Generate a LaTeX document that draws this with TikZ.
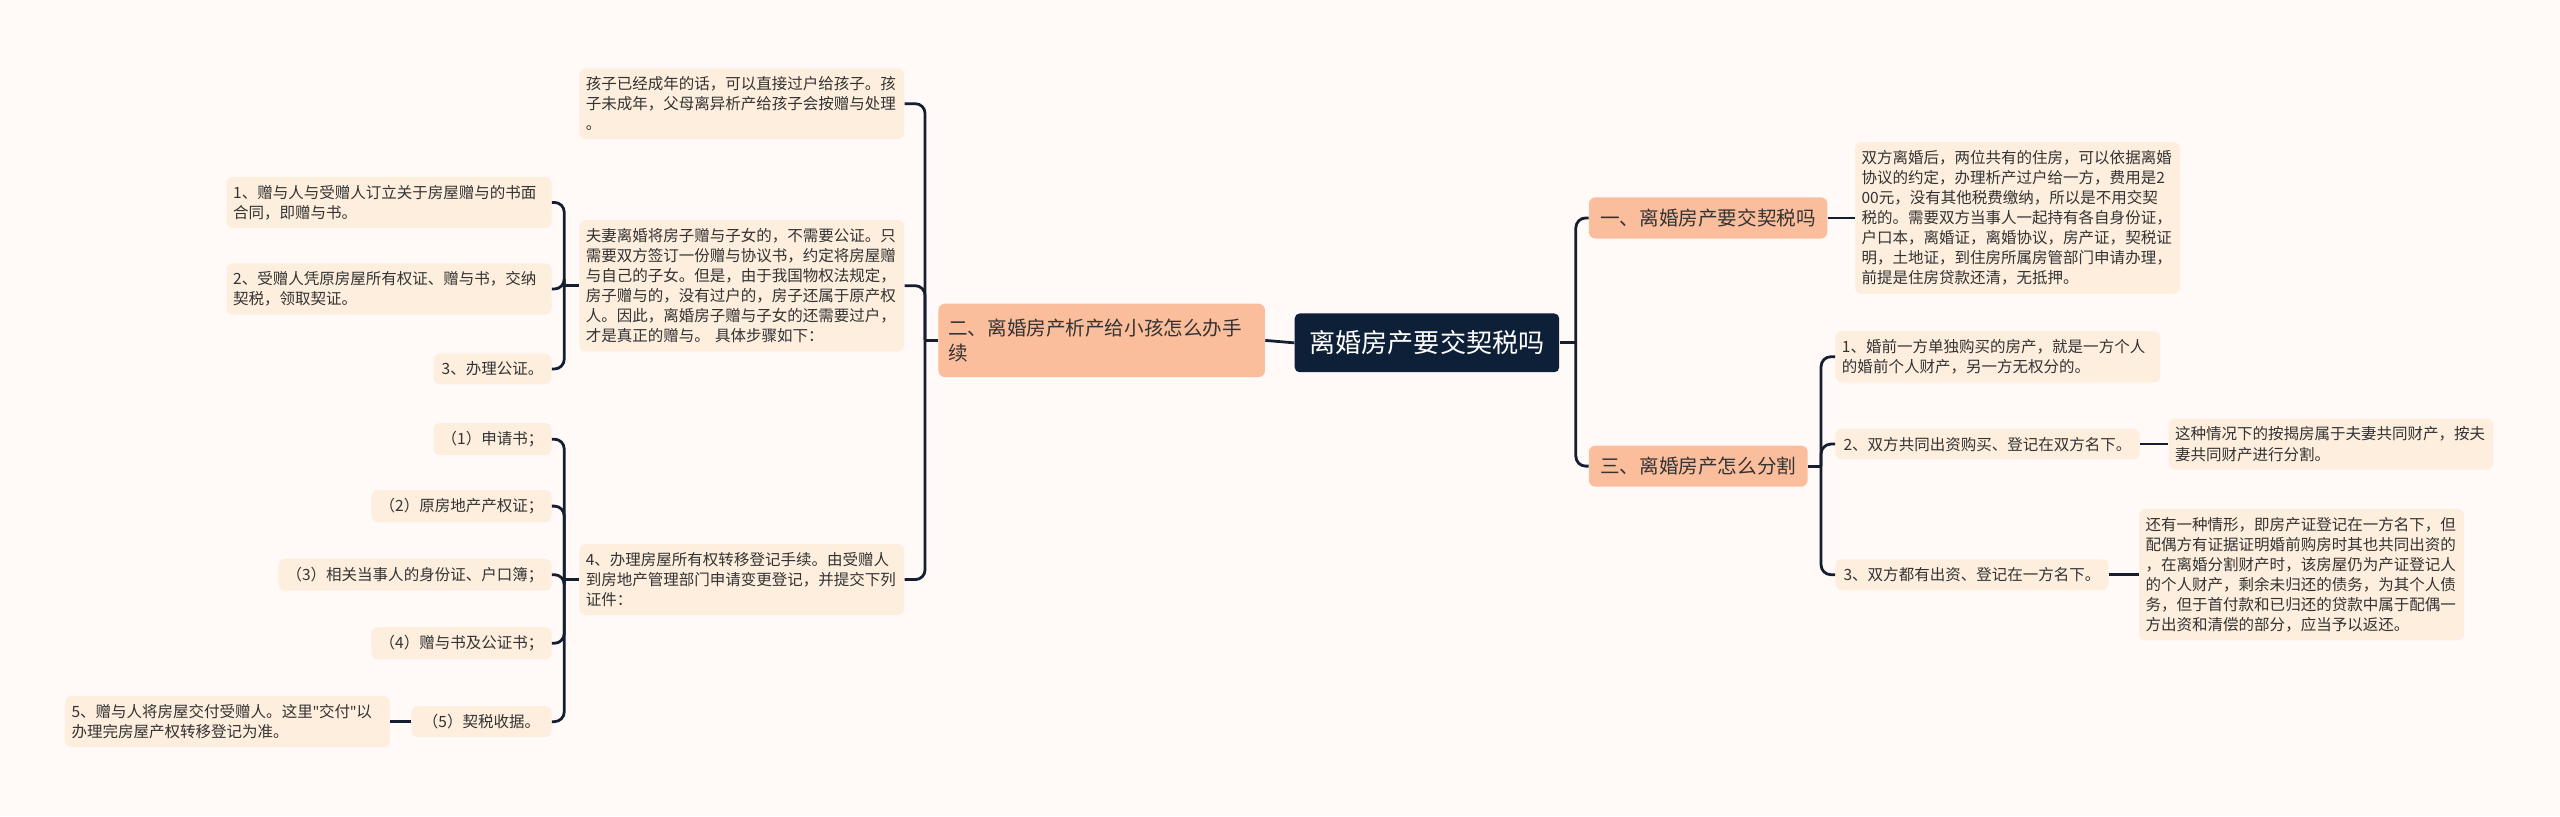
\documentclass[tikz,border=0pt]{standalone}
\usepackage{fontspec}
\setmainfont{Noto Sans CJK SC}
\newfontfamily\latinfont{Noto Sans}
\usetikzlibrary{positioning}
\definecolor{bgcol}{HTML}{FFFAF8}
\definecolor{leafcol}{HTML}{FDEEDD}
\definecolor{branchcol}{HTML}{FBBE9C}
\definecolor{rootcol}{HTML}{0E1F38}
\definecolor{linecol}{HTML}{151E30}
\definecolor{txtcol}{HTML}{333333}
\tikzset{
  leaf/.style={fill=leafcol, rounded corners=4pt, align=left, text=txtcol, inner xsep=5pt, inner ysep=5pt,
               font=\fontsize{9.5}{12.3}\selectfont},
  leafw/.style={leaf, text width=191pt, inner xsep=4pt},
  branch/.style={fill=branchcol, rounded corners=4pt, align=left, text=txtcol, inner xsep=7pt, inner ysep=7pt,
                 font=\fontsize{12}{15}\selectfont},
  rootbox/.style={fill=rootcol, rounded corners=3pt, text=white, minimum width=162pt, minimum height=36pt,
                  font=\fontsize{16}{19}\selectfont},
  link/.style={draw=linecol, line width=1.7pt, rounded corners=6pt},
}
\newcommand{\qt}{{\latinfont"}}

\begin{document}
\begin{tikzpicture}[x=1pt, y=-1pt]
  \fill[bgcol] (0,0) rectangle (1568,500);
  % centre and main branches
  \node[rootbox] (root) at (874,210) {离婚房产要交契税吗};
  \node[branch, anchor=west] (br1) at (973,133.5) {一、离婚房产要交契税吗};
  \node[branch, anchor=east, text width=188pt, minimum height=45pt, inner xsep=6pt] (br2) at (775,208.5) {二、离婚房产析产给小孩怎么办手\\续};
  \node[branch, anchor=west] (br3) at (973,285.5) {三、离婚房产怎么分割};
  % right side
  \node[leafw, anchor=west] (tax) at (1136,133.5) {双方离婚后，两位共有的住房，可以依据离婚\\协议的约定，办理析产过户给一方，费用是2\\00元，没有其他税费缴纳，所以是不用交契\\税的。需要双方当事人一起持有各自身份证，\\户口本，离婚证，离婚协议，房产证，契税证\\明，土地证，到住房所属房管部门申请办理，\\前提是住房贷款还清，无抵押。};
  \node[leafw, anchor=west] (sp1) at (1124,218.5) {1、婚前一方单独购买的房产，就是一方个人\\的婚前个人财产，另一方无权分的。};
  \node[leaf, anchor=west] (sp2) at (1124,272) {2、双方共同出资购买、登记在双方名下。};
  \node[leafw, anchor=west] (sp2a) at (1328,272) {这种情况下的按揭房属于夫妻共同财产，按夫\\妻共同财产进行分割。};
  \node[leaf, anchor=west] (sp3) at (1124,352) {3、双方都有出资、登记在一方名下。};
  \node[leafw, anchor=west] (sp3a) at (1310,352) {还有一种情形，即房产证登记在一方名下，但\\配偶方有证据证明婚前购房时其也共同出资的\\，在离婚分割财产时，该房屋仍为产证登记人\\的个人财产，剩余未归还的债务，为其个人债\\务，但于首付款和已归还的贷款中属于配偶一\\方出资和清偿的部分，应当予以返还。};
  % left side
  \node[leafw, anchor=east] (adult) at (554,63.5) {孩子已经成年的话，可以直接过户给孩子。孩\\子未成年，父母离异析产给孩子会按赠与处理\\。};
  \node[leafw, anchor=east] (gift) at (554,175) {夫妻离婚将房子赠与子女的，不需要公证。只\\需要双方签订一份赠与协议书，约定将房屋赠\\与自己的子女。但是，由于我国物权法规定，\\房子赠与的，没有过户的，房子还属于原产权\\人。因此，离婚房子赠与子女的还需要过户，\\才是真正的赠与。 具体步骤如下：};
  \node[leafw, anchor=east] (reg) at (554,355) {4、办理房屋所有权转移登记手续。由受赠人\\到房地产管理部门申请变更登记，并提交下列\\证件：};
  \node[leafw, anchor=east] (g1) at (338,124) {1、赠与人与受赠人订立关于房屋赠与的书面\\合同，即赠与书。};
  \node[leafw, anchor=east] (g2) at (338,177) {2、受赠人凭原房屋所有权证、赠与书，交纳\\契税，领取契证。};
  \node[leaf, anchor=east] (g3) at (338,226) {3、办理公证。};
  \node[leaf, anchor=east] (d1) at (338,269) {（1）申请书；};
  \node[leaf, anchor=east] (d2) at (338,310) {（2）原房地产产权证；};
  \node[leaf, anchor=east] (d3) at (338,352) {（3）相关当事人的身份证、户口簿；};
  \node[leaf, anchor=east] (d4) at (338,394) {（4）赠与书及公证书；};
  \node[leaf, anchor=east, inner xsep=7pt] (d5) at (338,442) {（5）契税收据。};
  \node[leafw, anchor=east] (hand) at (239,442) {5、赠与人将房屋交付受赠人。这里\qt 交付\qt 以\\办理完房屋产权转移登记为准。};
  % connectors
  \draw[link] (root.east) -- ++(10,0) coordinate (j0);
  \draw[link] (j0) |- (br1.west);
  \draw[link] (j0) |- (br3.west);
  \draw[link] (root.west) -- (br2.east);
  \draw[link] (br1.east) -- (tax.west);
  \draw[link] (br3.east) -- ++(8,0) coordinate (j3);
  \foreach \n in {sp1,sp2,sp3}
    \draw[link] (j3) |- (\n.west);
  \draw[link] (sp2.east) -- (sp2a.west);
  \draw[link] (sp3.east) -- (sp3a.west);
  \draw[link] (br2.west) -- ++(-8,0) coordinate (j2);
  \foreach \n in {adult,gift,reg}
    \draw[link] (j2) |- (\n.east);
  \draw[link] (gift.west) -- ++(-9,0) coordinate (jg);
  \foreach \n in {g1,g2,g3}
    \draw[link] (jg) |- (\n.east);
  \draw[link] (reg.west) -- ++(-9,0) coordinate (jr);
  \foreach \i in {1,...,5}
    \draw[link] (jr) |- (d\i.east);
  \draw[link] (d5.west) -- (hand.east);
\end{tikzpicture}
\end{document}
